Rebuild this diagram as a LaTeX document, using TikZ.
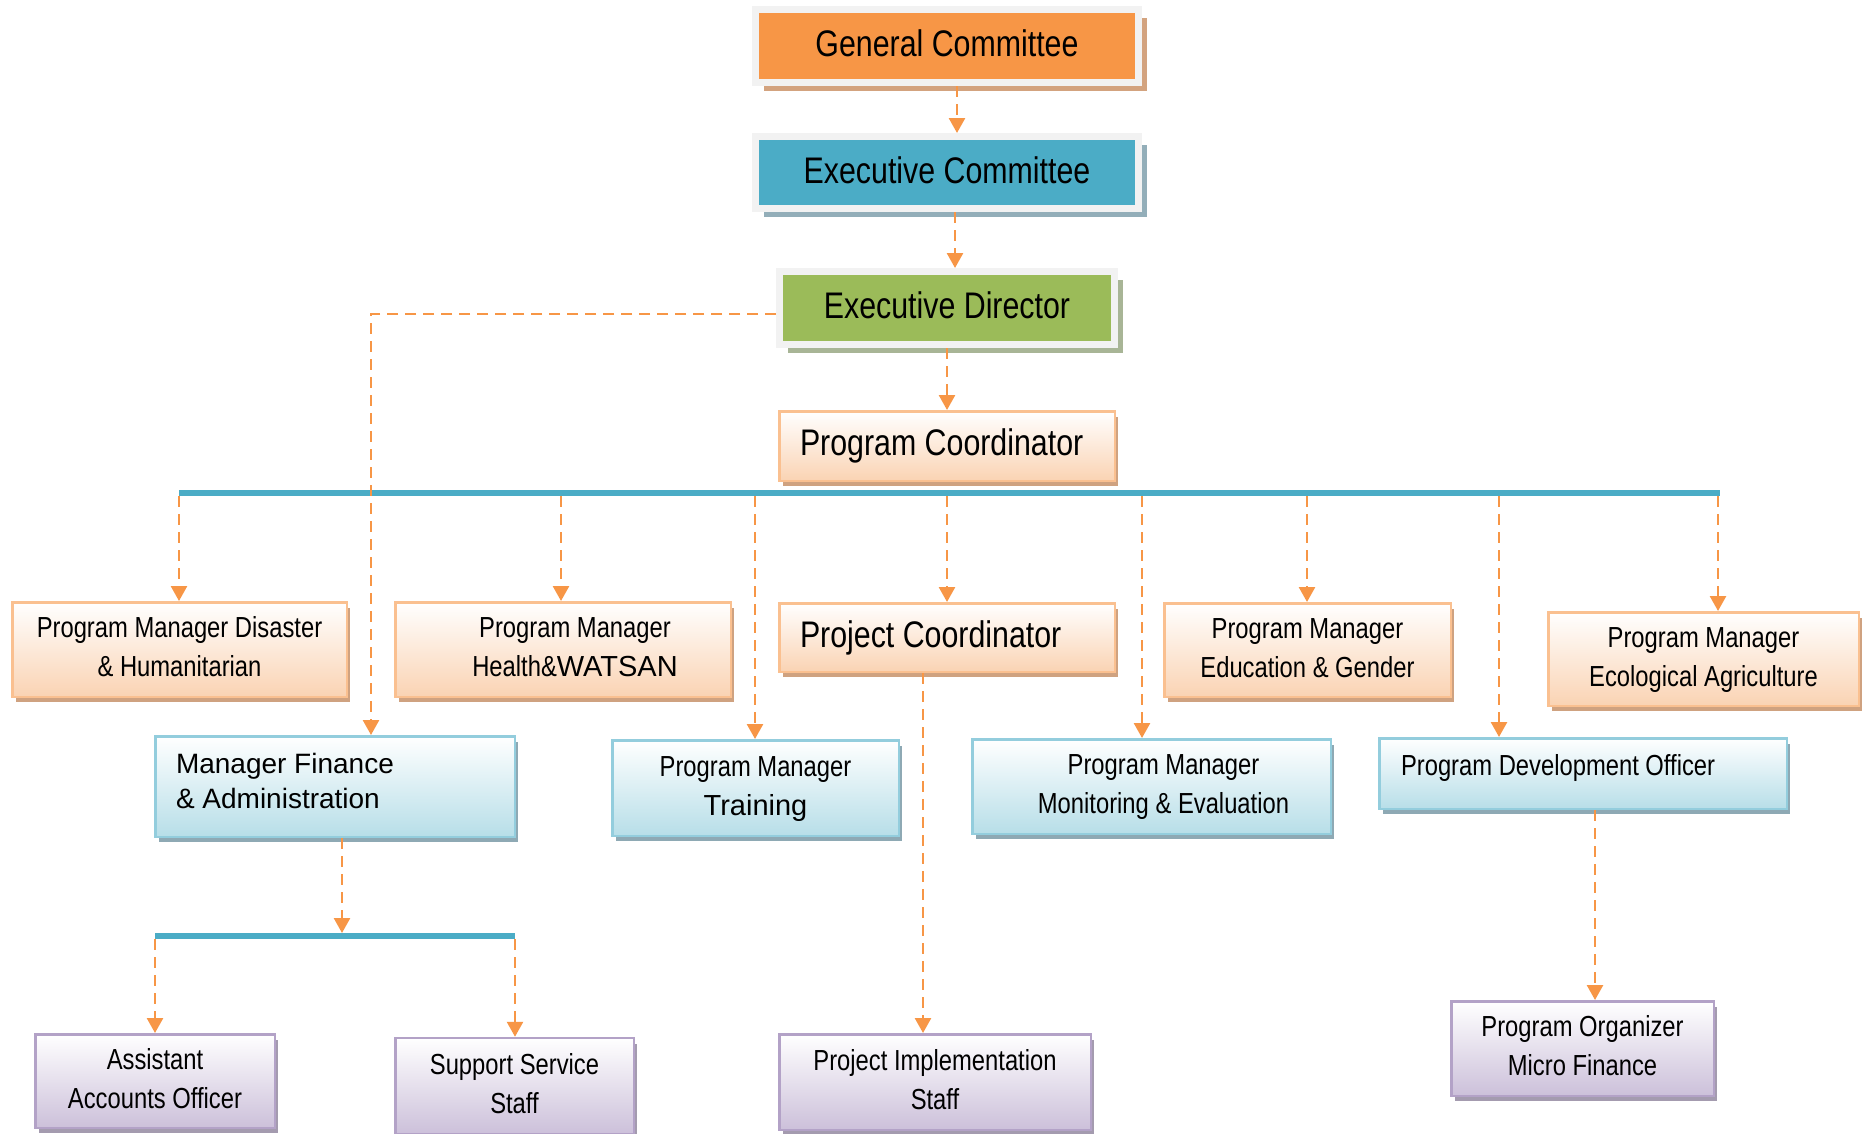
\documentclass[tikz,border=0pt]{standalone}
\usepackage{fontspec}
\setmainfont{Liberation Sans}
\newfontfamily\narrowfont[FakeStretch=0.82]{Liberation Sans}
\usetikzlibrary{arrows.meta,shadows}
\definecolor{dashor}{HTML}{F79646}
\definecolor{barblue}{HTML}{4BACC6}
\definecolor{framegray}{HTML}{F2F2F2}
\definecolor{gcfill}{HTML}{F79646}
\definecolor{ecfill}{HTML}{4BACC6}
\definecolor{edfill}{HTML}{9BBB59}
\definecolor{gcshadow}{HTML}{D3A37F}
\definecolor{ecshadow}{HTML}{93AEB9}
\definecolor{edshadow}{HTML}{A8B596}
\definecolor{oborder}{HTML}{FAC090}
\definecolor{ofill}{HTML}{FAD3B3}
\definecolor{oshadow}{HTML}{CFA280}
\definecolor{bborder}{HTML}{93CDDD}
\definecolor{bfill}{HTML}{B7DEE8}
\definecolor{bshadow}{HTML}{8EA9B4}
\definecolor{pborder}{HTML}{B3A2C7}
\definecolor{pfill}{HTML}{CCC0DA}
\definecolor{pshadow}{HTML}{A49BAF}
\newcommand\mytopstrut{\rule{0pt}{21.5pt}}
\newcommand\mybotstrut{\rule[-6pt]{0pt}{6pt}}
\tikzset{
  base/.style={rectangle, inner xsep=0pt, inner ysep=0pt, align=center, text=black},
  topbox/.style={base, draw=framegray, line width=7pt, font=\narrowfont\fontsize{37}{44}\selectfont},
  bigtext/.style={font=\narrowfont\fontsize{37}{44}\selectfont},
  smalltext/.style={font=\narrowfont\fontsize{29}{39}\selectfont},
  obox/.style={base, draw=oborder, line width=2.5pt, top color=white, bottom color=ofill,
    drop shadow={shadow xshift=3.5pt, shadow yshift=-5.5pt, fill=oshadow, opacity=1}},
  bbox/.style={base, draw=bborder, line width=2.5pt, top color=white, bottom color=bfill,
    drop shadow={shadow xshift=3.5pt, shadow yshift=-5.5pt, fill=bshadow, opacity=1}},
  pbox/.style={base, draw=pborder, line width=2.5pt, top color=white, bottom color=pfill,
    drop shadow={shadow xshift=3.5pt, shadow yshift=-5.5pt, fill=pshadow, opacity=1}},
  conn/.style={draw=dashor, line width=2.6pt, dash pattern=on 11pt off 7pt,
    -{Triangle[width=16pt,length=15pt]}},
  barline/.style={draw=barblue, line width=6.5pt}
}
\begin{document}
\begin{tikzpicture}[x=1pt,y=-1pt]
\useasboundingbox (0,0) rectangle (1868,1133);
\fill[white] (0,0) rectangle (1868,1133);

% top boxes
\node[topbox, fill=gcfill, minimum width=383pt, minimum height=73pt,
  drop shadow={shadow xshift=8pt, shadow yshift=-8pt, fill=gcshadow, opacity=1}]
  (gc) at (947,46) {General Committee\rule[-5pt]{0pt}{5pt}};
\node[topbox, fill=ecfill, minimum width=383pt, minimum height=72pt,
  drop shadow={shadow xshift=8pt, shadow yshift=-8pt, fill=ecshadow, opacity=1}]
  (ec) at (947,172.5) {Executive Committee\rule[-5pt]{0pt}{5pt}};
\node[topbox, fill=edfill, minimum width=335pt, minimum height=73pt,
  drop shadow={shadow xshift=8pt, shadow yshift=-8pt, fill=edshadow, opacity=1}]
  (ed) at (947,308) {Executive Director\rule[-5pt]{0pt}{5pt}};

% program coordinator
\node[obox, bigtext, minimum width=335.5pt, minimum height=69.5pt, inner xsep=20.75pt]
  (pc) at (947,446) {\makebox[294pt][l]{Program Coordinator}};

% second row
\node[obox, smalltext, minimum width=334.5pt, minimum height=94.5pt] (pmd) at (179.5,649.5)
  {\mytopstrut Program Manager Disaster\\\& Humanitarian\mybotstrut};
\node[obox, smalltext, minimum width=335.5pt, minimum height=94.5pt] (pmh) at (563,649.5)
  {\hspace*{24pt}\mytopstrut Program Manager\\\hspace*{24pt}Health\&{\rmfamily WATSAN}\mybotstrut};
\node[obox, bigtext, minimum width=335.5pt, minimum height=68.5pt, inner xsep=20.75pt]
  (pjc) at (947,637.5) {\makebox[294pt][l]{Project Coordinator}};
\node[obox, smalltext, minimum width=286.5pt, minimum height=93.5pt] (pme) at (1307.5,650)
  {\mytopstrut Program Manager\\Education \& Gender\mybotstrut};
\node[obox, smalltext, minimum width=310.5pt, minimum height=93.5pt] (pmea) at (1703.5,659)
  {\mytopstrut Program Manager\\Ecological Agriculture\mybotstrut};

% third row
\node[bbox, font=\fontsize{28}{35}\selectfont, minimum width=359.5pt, minimum height=100.5pt,
  inner xsep=20.75pt, align=left] (mfa) at (335,786.5)
  {\makebox[318pt][l]{Manager Finance}\\\& Administration\rule[-12pt]{0pt}{12pt}};
\node[bbox, smalltext, minimum width=286.5pt, minimum height=95.5pt] (pmt) at (755.5,788)
  {\mytopstrut Program Manager\\{\rmfamily Training}\mybotstrut};
\node[bbox, smalltext, minimum width=358.5pt, minimum height=94.5pt] (pmm) at (1151.5,786.5)
  {\hspace*{24pt}\mytopstrut Program Manager\\\hspace*{24pt}Monitoring \& Evaluation\mybotstrut};
\node[bbox, smalltext, minimum width=407.5pt, minimum height=70.5pt, inner xsep=21.75pt]
  (pdo) at (1583,773.5)
  {\makebox[364pt][l]{Program Development Officer\rule[-18pt]{0pt}{18pt}}};

% bottom row
\node[pbox, smalltext, minimum width=239.5pt, minimum height=93.5pt] (aao) at (155,1081)
  {\mytopstrut Assistant\\Accounts Officer\mybotstrut};
\node[pbox, smalltext, minimum width=238.5pt, minimum height=96pt] (sss) at (514.5,1086)
  {\mytopstrut Support Service\\Staff\mybotstrut};
\node[pbox, smalltext, minimum width=311.5pt, minimum height=95.5pt] (pis) at (935,1082)
  {\mytopstrut Project Implementation\\Staff\mybotstrut};
\node[pbox, smalltext, minimum width=262.5pt, minimum height=94.5pt] (po) at (1582.5,1048.5)
  {\mytopstrut Program Organizer\\Micro Finance\mybotstrut};

% bars
\coordinate (bL) at (179,493);
\coordinate (bR) at (1720,493);
\draw[barline] (bL) -- (bR);
\coordinate (sbL) at (155,936);
\coordinate (sbR) at (515,936);
\draw[barline] (sbL) -- (sbR);

% connectors top chain
\draw[conn] ([xshift=10pt]gc.south) -- ([xshift=10pt]ec.north);
\draw[conn] ([xshift=8pt]ec.south) -- ([xshift=8pt]ed.north);
\draw[conn] (ed.south) -- (pc.north);

% executive director to finance
\coordinate (edc) at (371,314);
\draw[conn] ([yshift=-6pt]ed.west) -- (edc) -- (mfa.north -| edc);

% drops from main bar
\coordinate (d1) at (179,496);
\coordinate (d2) at (561,496);
\coordinate (d3) at (755,496);
\coordinate (d4) at (947,496);
\coordinate (d5) at (1142,496);
\coordinate (d6) at (1307,496);
\coordinate (d7) at (1499,496);
\coordinate (d8) at (1718,496);
\draw[conn] (d1) -- (pmd.north -| d1);
\draw[conn] (d2) -- (pmh.north -| d2);
\draw[conn] (d3) -- (pmt.north -| d3);
\draw[conn] (d4) -- (pjc.north -| d4);
\draw[conn] (d5) -- (pmm.north -| d5);
\draw[conn] (d6) -- (pme.north -| d6);
\draw[conn] (d7) -- (pdo.north -| d7);
\draw[conn] (d8) -- (pmea.north -| d8);

% finance to small bar and drops
\coordinate (sbm) at (342,933);
\draw[conn] (mfa.south -| sbm) -- (sbm);
\coordinate (s1) at (155,939);
\coordinate (s2) at (515,939);
\draw[conn] (s1) -- (aao.north -| s1);
\draw[conn] (s2) -- (sss.north -| s2);

% project coordinator to implementation staff
\draw[conn] ([xshift=-24pt]pjc.south) -- ([xshift=-12pt]pis.north);
% development officer to organizer
\draw[conn] ([xshift=12pt]pdo.south) -- ([xshift=12.5pt]po.north);
\end{tikzpicture}
\end{document}
